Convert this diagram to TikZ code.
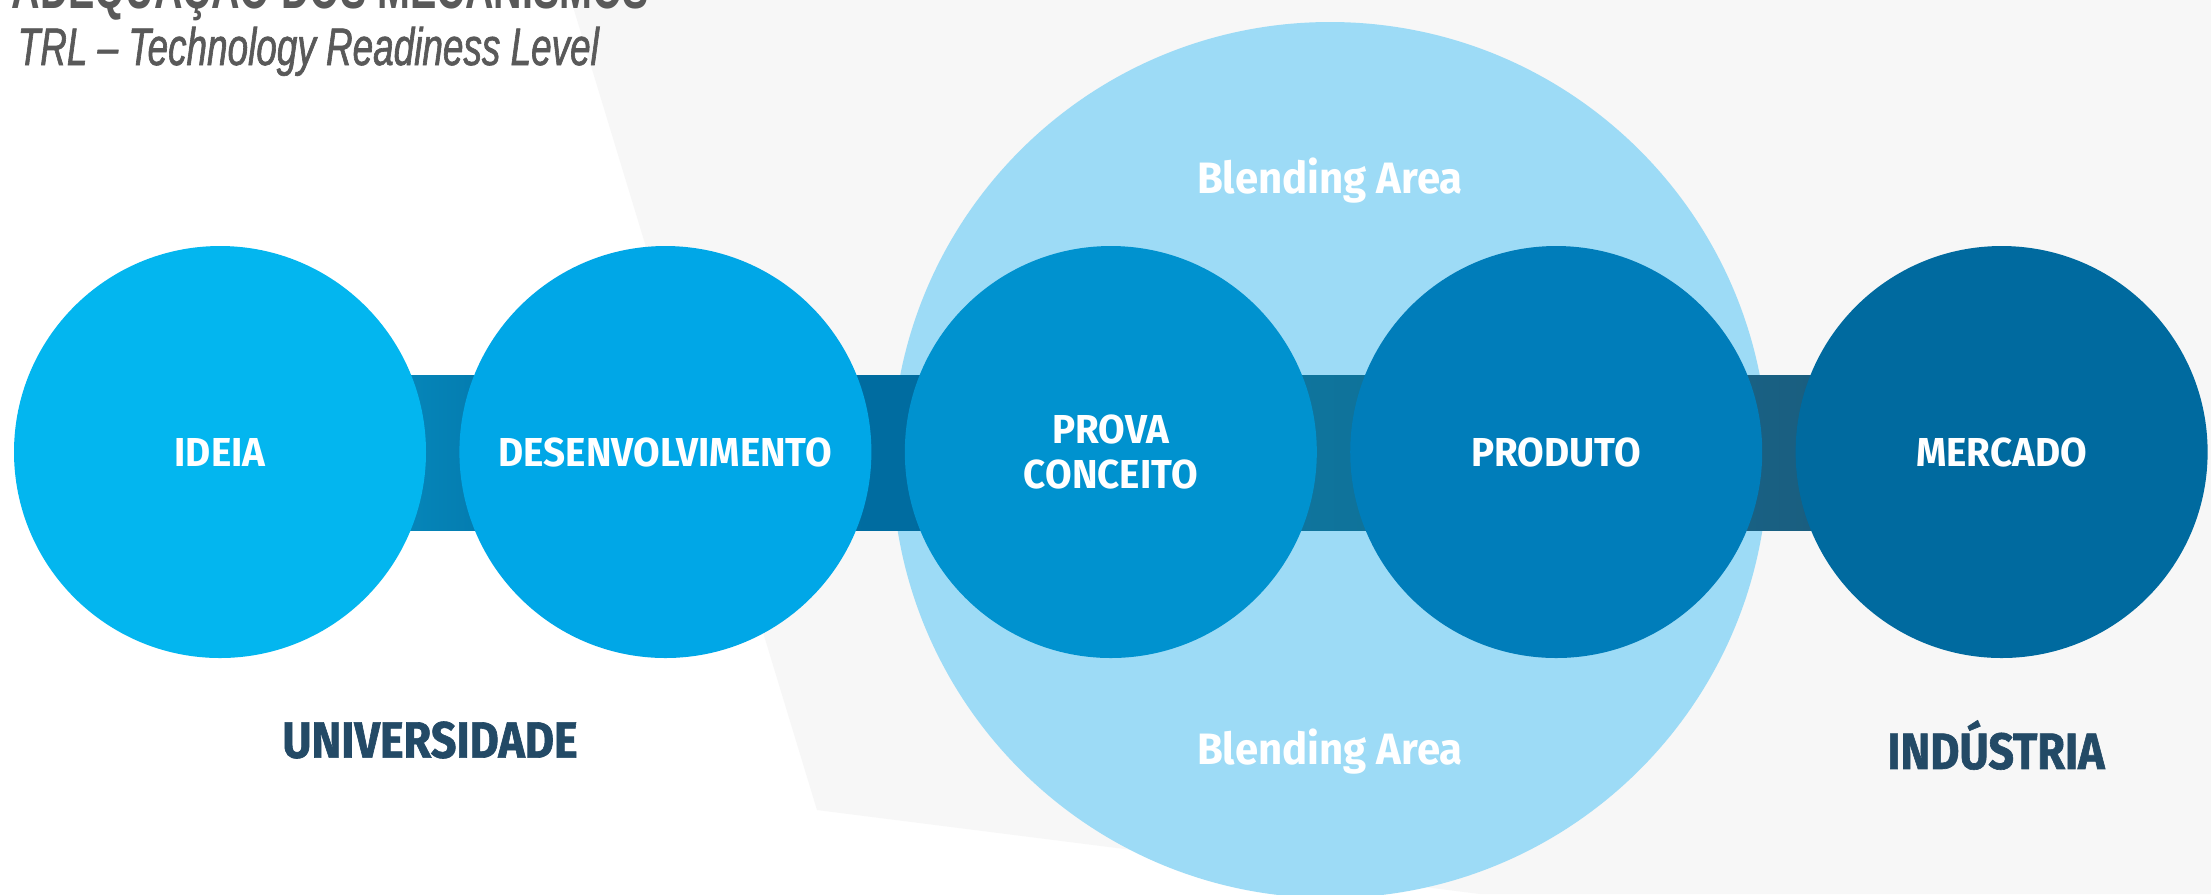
\documentclass[tikz,border=0pt]{standalone}
\usepackage{fontspec}
\setmainfont{Fira Sans}
\newfontfamily\stagefont{Fira Sans}[FakeStretch=0.955]
\newfontfamily\sidefont{Fira Sans}[FakeStretch=0.88, FakeBold=1.2]
\newfontfamily\titlefont{Liberation Sans}[FakeStretch=0.70, FakeBold=1.2]
\newfontfamily\headfont{Liberation Sans}[FakeStretch=0.66]
\usetikzlibrary{calc}
\usetikzlibrary{positioning}

\definecolor{ideiacol}{HTML}{03B6EF}
\definecolor{desenvcol}{HTML}{00A7E7}
\definecolor{provacol}{HTML}{0092CF}
\definecolor{produtocol}{HTML}{007DBA}
\definecolor{mercadocol}{HTML}{006A9F}
\definecolor{blendcol}{HTML}{9DDBF6}
\definecolor{paper}{HTML}{F7F7F7}
\definecolor{navy}{HTML}{234A66}
\definecolor{titlegrey}{HTML}{595959}
\definecolor{barAleft}{HTML}{0A9CD0}
\definecolor{barAright}{HTML}{006699}
\definecolor{barBleft}{HTML}{0070A4}
\definecolor{barBright}{HTML}{00689C}
\definecolor{barCleft}{HTML}{0B7AA5}
\definecolor{barCright}{HTML}{136D92}
\definecolor{barDleft}{HTML}{15698F}
\definecolor{barDright}{HTML}{1E5674}

\pgfdeclarelayer{back}
\pgfdeclarelayer{middle}
\pgfsetlayers{back,middle,main}

\tikzset{
    stage/.style={circle, minimum size=4.12cm, inner sep=0pt, text=white, align=center,
        font=\stagefont\bfseries\fontsize{11.5}{12.8}\selectfont},
    sidelabel/.style={text=navy, inner sep=0pt, font=\sidefont\bfseries\fontsize{14.5}{16}\selectfont},
    blendlabel/.style={text=white, inner sep=0pt, font=\stagefont\bfseries\fontsize{12.5}{14}\selectfont}
}

\begin{document}
\begin{tikzpicture}
    \useasboundingbox (0,0) rectangle (22.11,-8.94);

    % stages
    \node [stage, fill=ideiacol] (ideia) at (2.20,-4.52) {IDEIA};
    \node [stage, fill=desenvcol, right=0.32cm of ideia] (desenv) {DESENVOLVIMENTO};
    \node [stage, fill=provacol, right=0.32cm of desenv] (prova) {PROVA\\CONCEITO};
    \node [stage, fill=produtocol, right=0.32cm of prova] (produto) {PRODUTO};
    \node [stage, fill=mercadocol, right=0.32cm of produto] (mercado) {MERCADO};

    \begin{pgfonlayer}{back}
        \fill [white] (0,0) rectangle (22.11,-8.94);
        \fill [paper] (5.71,0) -- (8.17,-8.10) -- (14.80,-8.94) -- (22.11,-8.94) -- (22.11,0) -- cycle;
        \node [circle, fill=blendcol, minimum size=8.76cm, inner sep=0pt] (blend) at (13.30,-4.60) {};
    \end{pgfonlayer}

    % bars between the stages
    \begin{pgfonlayer}{middle}
        \fill [left color=barAleft, right color=barAright]
            ($(ideia.center)+(0,0.77)$) rectangle ($(desenv.center)+(0,-0.78)$);
        \fill [left color=barBleft, right color=barBright]
            ($(desenv.center)+(0,0.77)$) rectangle ($(prova.center)+(0,-0.78)$);
        \fill [left color=barCleft, right color=barCright]
            ($(prova.center)+(0,0.77)$) rectangle ($(produto.center)+(0,-0.78)$);
        \fill [left color=barDleft, right color=barDright]
            ($(produto.center)+(0,0.77)$) rectangle ($(mercado.center)+(0,-0.78)$);
    \end{pgfonlayer}

    \node [blendlabel] (blendtop) at (13.30,-1.81) {Blending Area};
    \node [blendlabel] (blendbottom) at (13.30,-7.52) {Blending Area};

    \node [sidelabel] (universidade) at (4.30,-7.40) {UNIVERSIDADE};
    \node [sidelabel] (industria) at (19.96,-7.45) {INDÚSTRIA};

    % heading
    \node [anchor=base west, inner sep=0pt, text=titlegrey, font=\headfont\bfseries\fontsize{17}{20}\selectfont] (title) at (0.11,-0.08) {ADEQUAÇÃO DOS MECANISMOS};
    \node [anchor=base west, inner sep=0pt, text=titlegrey, font=\titlefont\itshape\fontsize{15}{17}\selectfont] (subtitle) at (0.17,-0.65) {TRL – Technology Readiness Level};
\end{tikzpicture}
\end{document}
